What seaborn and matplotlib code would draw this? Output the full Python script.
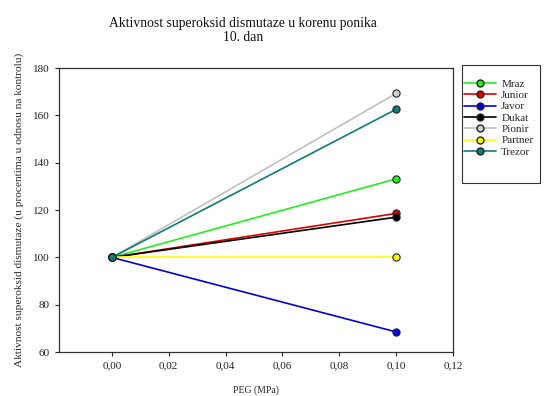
import matplotlib
matplotlib.use("Agg")
import matplotlib.pyplot as plt
from matplotlib.lines import Line2D
from matplotlib.patches import Rectangle
import seaborn as sns
import pandas as pd

# PEG concentration (MPa) and SOD activity relative to control (%)
peg = [0.00, 0.10]
cultivars = ["Mraz", "Junior", "Javor", "Dukat", "Pionir", "Partner", "Trezor"]
mraz = [100, 133.2]
junior = [100, 118.6]
javor = [100, 68.5]
dukat = [100, 117.0]
pionir = [100, 169.3]
partner = [100, 100.0]
trezor = [100, 162.6]

line_colors = ["#22ee22", "#dd0000", "#0000dd", "#000000", "#c0c0c0", "#ffff00", "#117a7a"]
marker_fill = ["#22ee22", "#dd0000", "#0000dd", "#000000", "#d0d0d0", "#ffff00", "#117a7a"]

series = [mraz, junior, javor, dukat, pionir, partner, trezor]
df = pd.DataFrame({
    "x": [p for _ in cultivars for p in peg],
    "y": [v for s in series for v in s],
    "cultivar": [c for c in cultivars for _ in peg],
})

sns.set_theme(style="white")
plt.rcParams["font.family"] = ["Liberation Serif", "DejaVu Serif"]

fig = plt.figure(figsize=(5.44, 3.96), dpi=100)
ax = fig.add_axes([0.1085, 0.111, 0.7242, 0.717])

sns.lineplot(data=df, x="x", y="y", hue="cultivar", hue_order=cultivars,
             palette=dict(zip(cultivars, line_colors)), marker="o",
             markersize=5.2, markeredgecolor="#222222", markeredgewidth=0.8,
             linewidth=1.2, ax=ax, legend=False)

# fill markers per series
for line, fc in zip(ax.get_lines(), marker_fill):
    line.set_markerfacecolor(fc)

ax.set_xlim(-0.0186, 0.12)
ax.set_ylim(60, 180)
ax.set_xticks([0.00, 0.02, 0.04, 0.06, 0.08, 0.10, 0.12])
ax.set_xticklabels(["0,00", "0,02", "0,04", "0,06", "0,08", "0,10", "0,12"])
ax.set_yticks([60, 80, 100, 120, 140, 160, 180])
ax.tick_params(axis="both", labelsize=8, length=3, width=0.8, direction="out",
               bottom=True, left=True, colors="#222222")
for sp in ax.spines.values():
    sp.set_color("#333333")
    sp.set_linewidth(0.9)

ax.set_xlabel("PEG (MPa)", fontsize=7, labelpad=11)
ax.set_ylabel("Aktivnost superoksid dismutaze (u procentima u odnosu na kontrolu)",
              fontsize=8.2, labelpad=7)
fig.text(243 / 544, 1 - 23 / 396, "Aktivnost superoksid dismutaze u korenu ponika",
         ha="center", va="center", fontsize=9.8, color="#111111")
fig.text(243 / 544, 1 - 37.5 / 396, "10. dan",
         ha="center", va="center", fontsize=9.8, color="#111111")

# legend frame and entries
fig.patches.append(Rectangle((462 / 544, 1 - 183 / 396), 78 / 544, 118 / 396,
                             transform=fig.transFigure, fill=True, facecolor="white",
                             edgecolor="#333333", linewidth=0.8))
handles = [Line2D([], [], color=lc, marker="o", markerfacecolor=mf,
                  markeredgecolor="#222222", markersize=5, linewidth=1.2)
           for lc, mf in zip(line_colors, marker_fill)]
leg = fig.legend(handles, cultivars, loc="upper left",
                 bbox_to_anchor=(464 / 544, 1 - 79 / 396), fontsize=8,
                 frameon=False, handlelength=2.9, borderpad=0, borderaxespad=0,
                 labelspacing=0.14, handletextpad=0.45)

fig.savefig("out.png", dpi=100)
